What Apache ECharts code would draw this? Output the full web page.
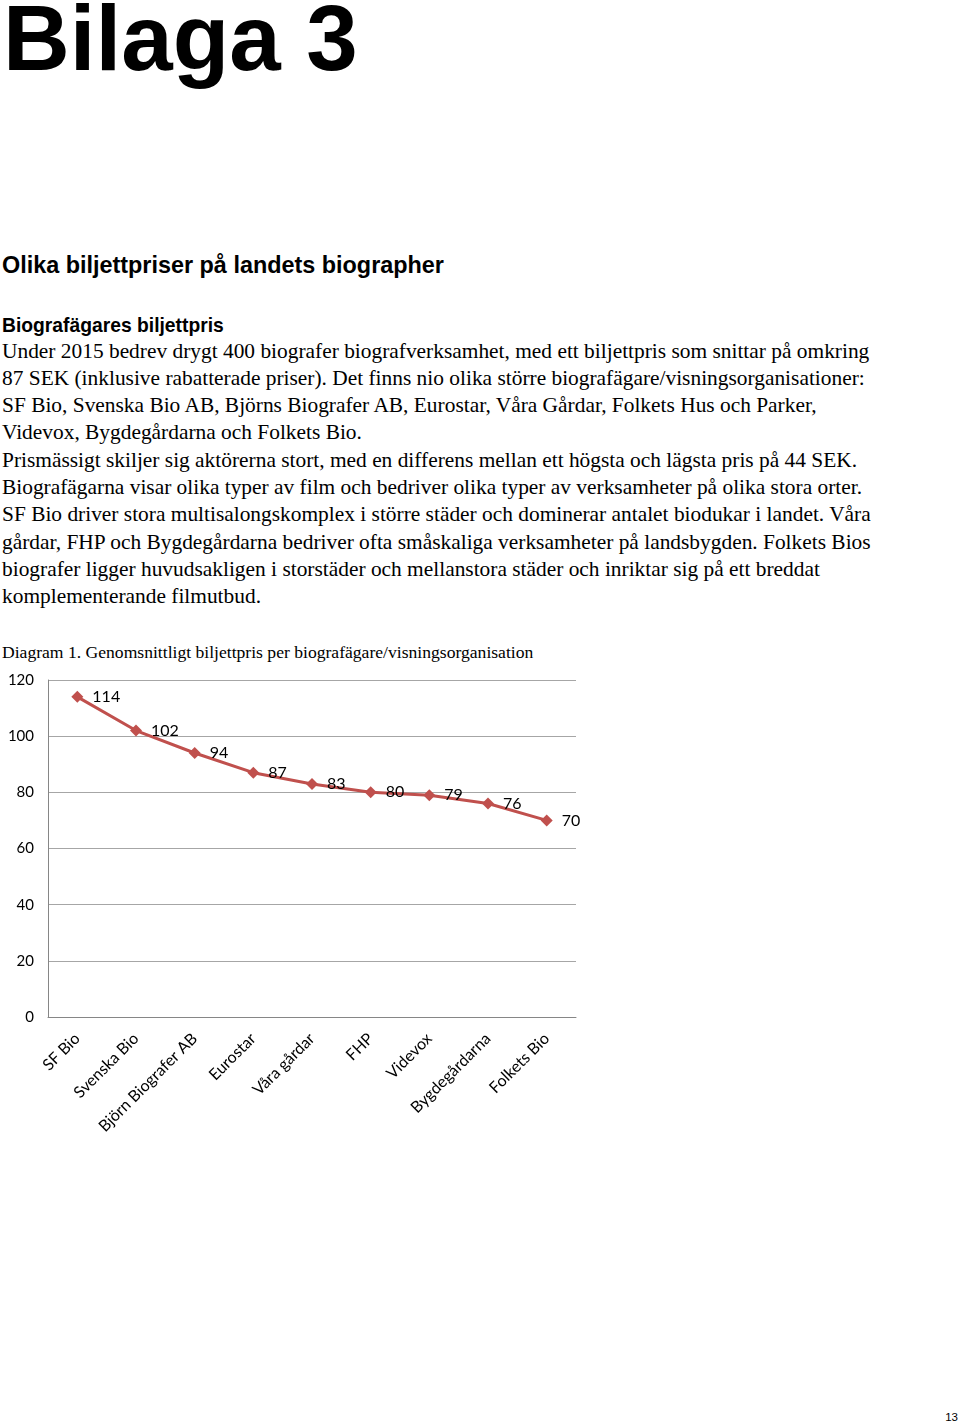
<!DOCTYPE html>
<html>
<head>
<meta charset="utf-8">
<script src="https://cdn.jsdelivr.net/npm/echarts@6/dist/echarts.min.js"></script>
<style>
  html, body { margin: 0; padding: 0; background: #fff; }
  body { width: 960px; height: 1424px; position: relative; overflow: hidden; }
  .abs { position: absolute; white-space: nowrap; color: #000; }
  .h1 { font-family: "Liberation Sans", Arial, sans-serif; font-weight: bold; font-size: 92.5px; line-height: 92.5px; left: 3px; top: -8px; }
  .h2 { font-family: "Liberation Sans", Arial, sans-serif; font-weight: bold; font-size: 23.4px; line-height: 23.4px; left: 2px; top: 254px; }
  .h3 { font-family: "Liberation Sans", Arial, sans-serif; font-weight: bold; font-size: 19.3px; line-height: 19.3px; left: 2px; top: 315.5px; }
  .body { font-family: "Liberation Serif", "Times New Roman", serif; font-size: 21.4px; line-height: 27.3px; left: 2px; top: 337.5px; }
  .body div { white-space: nowrap; }
  .cap { font-family: "Liberation Serif", "Times New Roman", serif; font-size: 17.6px; line-height: 17.6px; left: 2px; top: 644px; }
  .pg { font-family: "Liberation Sans", Arial, sans-serif; font-size: 11.5px; line-height: 11.5px; right: 2px; top: 1412px; }
  #chart { position: absolute; left: 0; top: 640px; width: 620px; height: 520px; }
</style>
</head>
<body>
<div class="abs h1">Bilaga 3</div>
<div class="abs h2">Olika biljettpriser på landets biographer</div>
<div class="abs h3">Biografägares biljettpris</div>
<div class="abs body">
  <div>Under 2015 bedrev drygt 400 biografer biografverksamhet, med ett biljettpris som snittar på omkring</div>
  <div>87 SEK (inklusive rabatterade priser). Det finns nio olika större biografägare/visningsorganisationer:</div>
  <div>SF Bio, Svenska Bio AB, Björns Biografer AB, Eurostar, Våra Gårdar, Folkets Hus och Parker,</div>
  <div>Videvox, Bygdegårdarna och Folkets Bio.</div>
  <div>Prismässigt skiljer sig aktörerna stort, med en differens mellan ett högsta och lägsta pris på 44 SEK.</div>
  <div>Biografägarna visar olika typer av film och bedriver olika typer av verksamheter på olika stora orter.</div>
  <div>SF Bio driver stora multisalongskomplex i större städer och dominerar antalet biodukar i landet. Våra</div>
  <div>gårdar, FHP och Bygdegårdarna bedriver ofta småskaliga verksamheter på landsbygden. Folkets Bios</div>
  <div>biografer ligger huvudsakligen i storstäder och mellanstora städer och inriktar sig på ett breddat</div>
  <div>komplementerande filmutbud.</div>
</div>
<div class="abs cap">Diagram 1. Genomsnittligt biljettpris per biografägare/visningsorganisation</div>
<div id="chart"></div>
<div class="abs pg">13</div>
<script>
const categories = ["SF Bio", "Svenska Bio", "Björn Biografer AB", "Eurostar", "Våra gårdar", "FHP", "Videvox", "Bygdegårdarna", "Folkets Bio"];
const prices = [114, 102, 94, 87, 83, 80, 79, 76, 70];
const yMin = 0, yMax = 120, yStep = 20;

const chart = echarts.init(document.getElementById('chart'), null, { renderer: 'canvas' });
const font = 'Lato, "Open Sans", sans-serif';
chart.setOption({
  animation: false,
  grid: { left: 48, top: 40, width: 528, height: 337, containLabel: false },
  xAxis: {
    type: 'category',
    data: categories,
    boundaryGap: true,
    axisLine: { show: true, lineStyle: { color: '#868686', width: 1 } },
    axisTick: { show: false },
    axisLabel: { rotate: 45, interval: 0, margin: 19, color: '#000', fontSize: 16, fontFamily: font }
  },
  yAxis: {
    type: 'value',
    min: yMin, max: yMax, interval: yStep,
    axisLine: { show: true, lineStyle: { color: '#868686', width: 1 } },
    axisTick: { show: false },
    splitLine: { show: true, lineStyle: { color: '#a6a6a6', width: 1 } },
    axisLabel: { margin: 14, color: '#000', fontSize: 15, fontFamily: font }
  },
  series: [{
    type: 'line',
    data: prices,
    symbol: 'diamond',
    symbolSize: 12,
    lineStyle: { color: '#c0504d', width: 3 },
    itemStyle: { color: '#c0504d' },
    label: { show: true, position: 'right', distance: 9, color: '#000', fontSize: 16, fontFamily: font }
  }]
});
</script>
</body>
</html>
